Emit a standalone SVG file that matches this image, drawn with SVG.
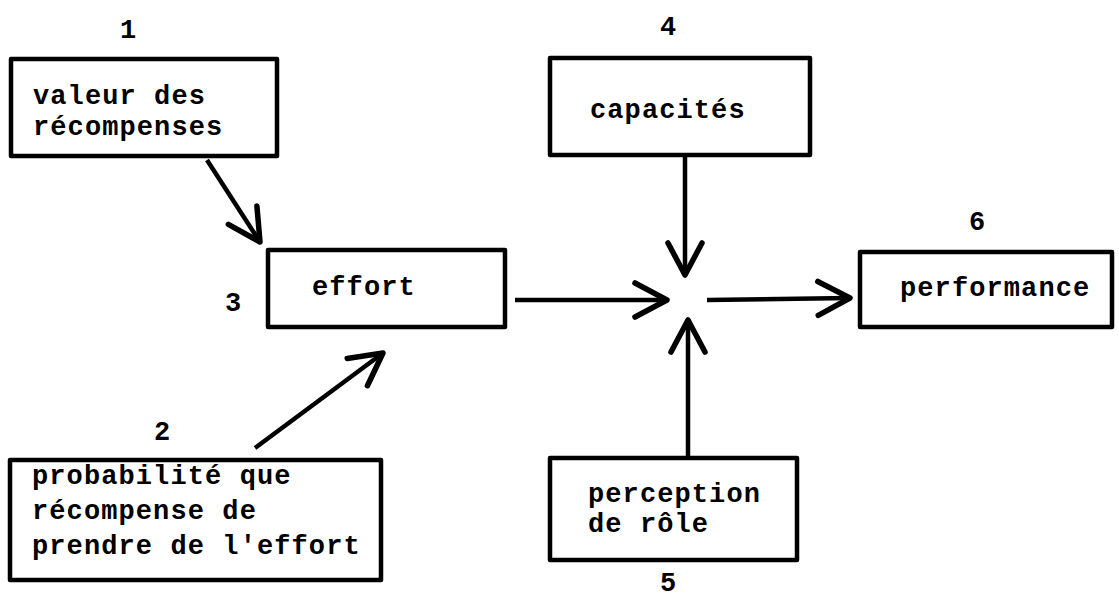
<svg xmlns="http://www.w3.org/2000/svg" width="1119" height="601" viewBox="0 0 1119 601">
<style>
.box{fill:none;stroke:#000;stroke-width:4.5;stroke-linejoin:round}
.t{font-family:"Liberation Mono","Courier New",monospace;font-weight:bold;font-size:27px;letter-spacing:1.1px;fill:#000}
.n{font-family:"Liberation Mono","Courier New",monospace;font-weight:bold;font-size:27px;fill:#000;text-anchor:middle}
.c{fill:none;stroke:#000;stroke-width:4.5;stroke-linecap:butt}
</style>
<defs>
<marker id="ah" markerUnits="userSpaceOnUse" markerWidth="44" markerHeight="44" viewBox="0 0 44 44" refX="40" refY="22" orient="auto" overflow="visible">
<path d="M8 5 L40 22 L8 39" fill="none" stroke="#000" stroke-width="5.5" stroke-linecap="round" stroke-linejoin="round"/>
</marker>
</defs>
<rect width="1119" height="601" fill="#fff"/>
<g id="n1">
<text class="n" x="128" y="38">1</text>
<rect class="box" x="11" y="59" width="266" height="97"/>
<text class="t" x="33" y="104">valeur des</text>
<text class="t" x="33" y="135">récompenses</text>
</g>
<g id="n2">
<text class="n" x="162" y="440">2</text>
<rect class="box" x="10" y="460" width="371" height="120"/>
<text class="t" x="32" y="484">probabilité que</text>
<text class="t" x="32" y="519">récompense de</text>
<text class="t" x="32" y="554">prendre de l'effort</text>
</g>
<g id="n3">
<text class="n" x="233" y="311">3</text>
<rect class="box" x="268" y="250" width="237" height="77"/>
<text class="t" x="312" y="295">effort</text>
</g>
<g id="n4">
<text class="n" x="668" y="35">4</text>
<rect class="box" x="550" y="58" width="260" height="97"/>
<text class="t" x="590" y="118">capacités</text>
</g>
<g id="n5">
<rect class="box" x="550" y="458" width="247" height="102"/>
<text class="t" x="588" y="502">perception</text>
<text class="t" x="588" y="532">de rôle</text>
<text class="n" x="668" y="591">5</text>
</g>
<g id="n6">
<text class="n" x="977" y="230">6</text>
<rect class="box" x="860" y="252" width="252" height="75"/>
<text class="t" x="900" y="296">performance</text>
</g>
<g id="connectors">
<line class="c" x1="207" y1="160" x2="260" y2="242" marker-end="url(#ah)"/>
<line class="c" x1="255" y1="448" x2="383" y2="353" marker-end="url(#ah)"/>
<line class="c" x1="515" y1="300" x2="667" y2="300" marker-end="url(#ah)"/>
<line class="c" x1="685" y1="157" x2="685" y2="275" marker-end="url(#ah)"/>
<line class="c" x1="688" y1="458" x2="688" y2="320" marker-end="url(#ah)"/>
<line class="c" x1="707" y1="300" x2="850" y2="298" marker-end="url(#ah)"/>
</g>
</svg>
